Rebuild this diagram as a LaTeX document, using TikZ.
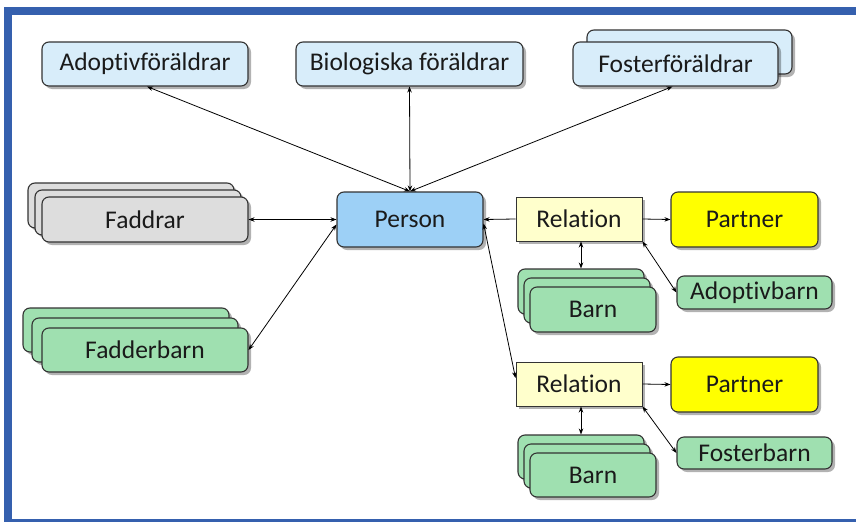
\documentclass[tikz,border=0pt]{standalone}
\usepackage{fontspec}
\setmainfont{Carlito}[RawFeature={-liga}]
\usetikzlibrary{arrows.meta,shadows,calc}
\definecolor{frameblue}{HTML}{3560AE}
\definecolor{lblue}{HTML}{D8EDFA}
\definecolor{mblue}{HTML}{9DD0F6}
\definecolor{lgray}{HTML}{DDDDDD}
\definecolor{lgreen}{HTML}{9FE0B0}
\definecolor{pyellow}{HTML}{FFFF00}
\definecolor{relyellow}{HTML}{FFFFCC}
\definecolor{txt}{HTML}{1A1A1A}
\tikzset{
  box/.style={draw=black!80, line width=1.1pt, rounded corners=7pt, inner sep=0pt,
    text=txt, font=\fontsize{25.5}{30}\selectfont,
    drop shadow={shadow xshift=3pt, shadow yshift=-3pt, opacity=0.3, fill=black}},
  parent/.style={box, fill=lblue},
  personbox/.style={box, fill=mblue},
  graybox/.style={box, fill=lgray},
  greenbox/.style={box, fill=lgreen},
  partnerbox/.style={box, fill=pyellow},
  relbox/.style={draw=black!80, line width=1pt, inner sep=0pt, fill=relyellow,
    text=txt, font=\fontsize{25.5}{30}\selectfont,
    drop shadow={shadow xshift=3pt, shadow yshift=-3pt, opacity=0.3, fill=black}},
  conn/.style={draw=black, line width=0.8pt},
  both/.style={conn, {Stealth[length=6pt,width=4.5pt]}-{Stealth[length=6pt,width=4.5pt]}},
  one/.style={conn, -{Stealth[length=6pt,width=4.5pt]}}
}
\begin{document}
\begin{tikzpicture}[x=1pt,y=-1pt]
\useasboundingbox (0,0) rectangle (856,522);
\fill[white] (0,0) rectangle (856,522);
% frame
\fill[frameblue] (4,7) rectangle (12,522);
\fill[frameblue] (4,7) rectangle (856,15);
\fill[frameblue] (4,519) rectangle (856,522);

% parents
\node[parent, minimum width=206pt, minimum height=44pt] (adf) at (145,64) {Adoptivföräldrar};
\node[parent, minimum width=227pt, minimum height=44pt] (bio) at (409.5,64) {Biologiska föräldrar};
\node[parent, minimum width=205pt, minimum height=44pt] (fosB) at (689.5,52) {};
\node[parent, minimum width=205pt, minimum height=44pt] (fos) at (675.5,64) {Fosterföräldrar};

% person
\node[personbox, minimum width=146pt, minimum height=55pt] (person) at (410,219.5) {Person};

% faddrar
\node[graybox, minimum width=206pt, minimum height=45pt] (fadC) at (131,205.5) {};
\node[graybox, minimum width=206pt, minimum height=45pt] (fadB) at (138,212.5) {};
\node[graybox, minimum width=206pt, minimum height=45pt] (fad) at (145,219.5) {Faddrar};

% fadderbarn
\node[greenbox, minimum width=206pt, minimum height=44pt] (fbC) at (126,330) {};
\node[greenbox, minimum width=206pt, minimum height=44pt] (fbB) at (135,340) {};
\node[greenbox, minimum width=206pt, minimum height=44pt] (fb) at (145,350) {Fadderbarn};

% relation 1
\node[relbox, minimum width=126pt, minimum height=44pt] (rel1) at (579,219) {Relation};
\node[partnerbox, minimum width=147pt, minimum height=55pt] (p1) at (744.5,219.5) {Partner};
\node[greenbox, minimum width=126pt, minimum height=45pt] (b1C) at (581,291.5) {};
\node[greenbox, minimum width=126pt, minimum height=45pt] (b1B) at (587,300.5) {};
\node[greenbox, minimum width=126pt, minimum height=45pt] (b1) at (593,309.5) {Barn};
\node[greenbox, minimum width=155pt, minimum height=33pt] (ab) at (754.5,292.5) {Adoptivbarn};

% relation 2
\node[relbox, minimum width=126pt, minimum height=44pt] (rel2) at (579,384) {Relation};
\node[partnerbox, minimum width=147pt, minimum height=55pt] (p2) at (744.5,384.5) {Partner};
\node[greenbox, minimum width=126pt, minimum height=44pt] (b2C) at (581,457) {};
\node[greenbox, minimum width=126pt, minimum height=44pt] (b2B) at (587,466) {};
\node[greenbox, minimum width=126pt, minimum height=44pt] (b2) at (593,475) {Barn};
\node[greenbox, minimum width=155pt, minimum height=32pt] (fb2) at (754.5,453) {Fosterbarn};

% connectors
\draw[both] (person.north) -- ([xshift=2pt]adf.south);
\draw[both] (person.north) -- (bio.south);
\draw[both] (person.north) -- ([xshift=-3pt]fos.south);
\draw[both] (fad.east) -- (person.west);
\draw[both] (fb.east) -- ([yshift=-5pt]person.west);
\draw[one] (rel1.west) -- (person.east);
\draw[one] (rel1.east) -- (p1.west);
\draw[both] (rel1.south -| b1C.north) -- (b1C.north);
\draw[both] (rel1.south east) -- (ab.west);
\draw[both] ([yshift=-4pt]person.east) -- ([yshift=6pt]rel2.west);
\draw[one] (rel2.east) -- (p2.west);
\draw[both] (rel2.south -| b2C.north) -- (b2C.north);
\draw[both] (rel2.south east) -- (fb2.west);
\end{tikzpicture}
\end{document}
